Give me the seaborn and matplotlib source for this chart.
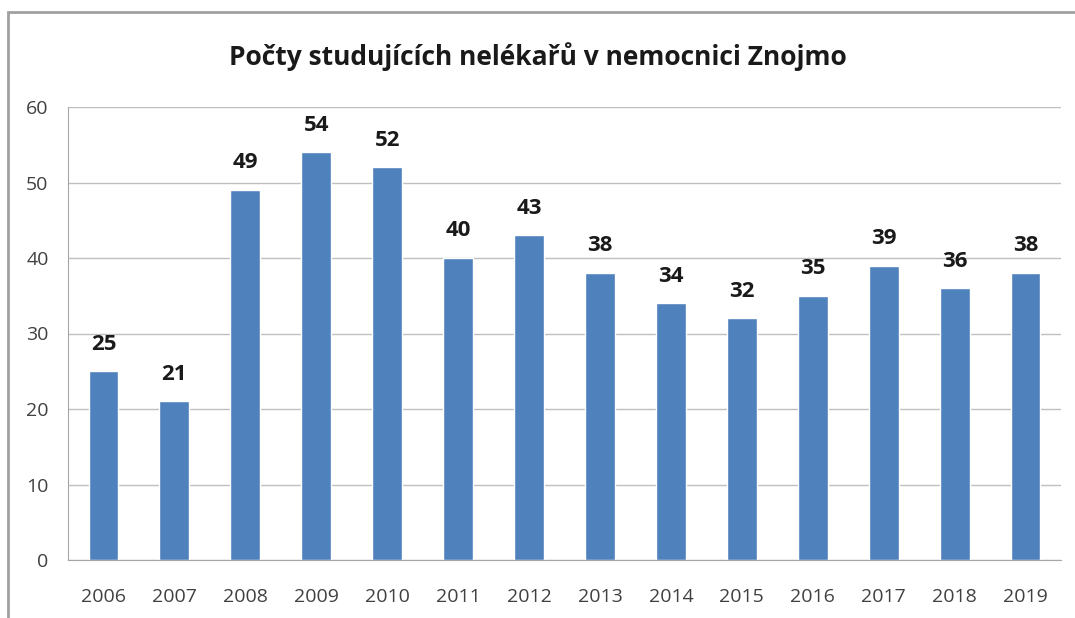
import matplotlib
matplotlib.use("Agg")
import matplotlib.pyplot as plt
import seaborn as sns
import pandas as pd
from matplotlib.patches import Rectangle

years = ["2006", "2007", "2008", "2009", "2010", "2011", "2012",
         "2013", "2014", "2015", "2016", "2017", "2018", "2019"]
counts = [25, 21, 49, 54, 52, 40, 43, 38, 34, 32, 35, 39, 36, 38]
title = "Počty studujících nelékařů v nemocnici Znojmo"

df = pd.DataFrame({"rok": years, "pocet": counts})

sns.set_style("white")
plt.rcParams["font.family"] = ["Open Sans", "DejaVu Sans"]

fig = plt.figure(figsize=(10.75, 6.18), dpi=100)
ax = fig.add_axes([68 / 1075, 1 - 560 / 618, (1061 - 68) / 1075, (560 - 107) / 618])

sns.barplot(data=df, x="rok", y="pocet", color="#4F81BD", saturation=1,
            width=0.42, ax=ax)

ax.set_ylim(0, 60)
ax.set_xlim(-0.5, len(years) - 0.5)
ax.set_yticks(range(0, 61, 10))
ax.yaxis.grid(True, color="#BFBFBF", linewidth=1)
ax.set_axisbelow(True)
ax.set_xlabel("")
ax.set_ylabel("")
for s in ["top", "right"]:
    ax.spines[s].set_visible(False)
ax.spines["left"].set_color("#A6A6A6")
ax.spines["bottom"].set_color("#A6A6A6")
ax.set_xticks([i - 0.5 for i in range(len(years) + 1)], minor=True)
ax.tick_params(axis="x", which="major", length=0, pad=20, labelsize=14, colors="#404040")
ax.tick_params(axis="x", which="minor", length=8, color="#A6A6A6", direction="out")
ax.tick_params(axis="y", length=6, color="#A6A6A6", labelsize=14, colors="#404040", pad=8)

for c in ax.containers:
    ax.bar_label(c, fmt="%d", padding=12, fontsize=16, fontweight="bold", color="#1a1a1a")

fig.text(0.5, 1 - 57 / 618, title, ha="center", va="center",
         fontsize=19, fontweight="bold", color="#1a1a1a")

fig.patches.append(Rectangle((8 / 1075, -0.1), 1.2, 1 - 12 / 618 + 0.1,
                             transform=fig.transFigure, fill=False,
                             edgecolor="#A0A0A0", linewidth=2))

fig.savefig("out.png", dpi=100)
